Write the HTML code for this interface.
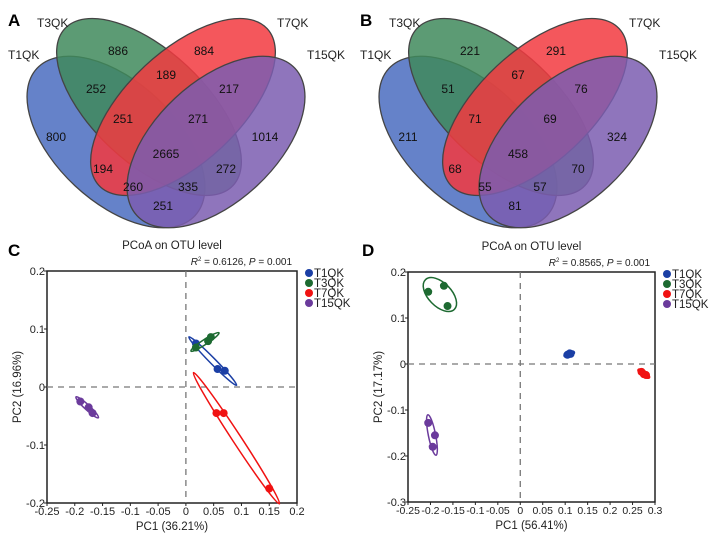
<!DOCTYPE html>
<html><head><meta charset="utf-8"><style>
html,body{margin:0;padding:0;background:#fff}
svg{display:block;font-family:"Liberation Sans",Arial,sans-serif}
</style></head><body>
<svg id="fig" width="713" height="540" viewBox="0 0 713 540" xmlns="http://www.w3.org/2000/svg">
<g id="vennA"></g>
<g id="vennB" transform="translate(352,0)"></g>
<text x="8" y="26" font-size="17" font-weight="bold">A</text>
<text x="360" y="26" font-size="17" font-weight="bold">B</text>
<text x="8" y="256" font-size="17" font-weight="bold">C</text>
<text x="362" y="256" font-size="17" font-weight="bold">D</text>
<g id="pcoaC"></g>
<g id="pcoaD"></g>
</svg>
<script>
const NS="http://www.w3.org/2000/svg";
const groups=["T1QK","T3QK","T7QK","T15QK"];
const vennA=["886","884","189","252","217","251","271","800","1014","2665","194","272","260","335","251"];
const vennB=["221","291","67","51","76","71","69","211","324","458","68","70","55","57","81"];
const cT1x=[0.018,0.057,0.070], cT1y=[0.075,0.031,0.028];
const cT3x=[0.018,0.040,0.045], cT3y=[0.068,0.079,0.086];
const cT7x=[0.055,0.068,0.150], cT7y=[-0.045,-0.045,-0.175];
const cT15x=[-0.190,-0.175,-0.168], cT15y=[-0.025,-0.035,-0.045];
const dT1x=[0.105,0.110,0.112], dT1y=[0.020,0.023,0.022];
const dT3x=[-0.205,-0.170,-0.162], dT3y=[0.157,0.170,0.126];
const dT7x=[0.270,0.275,0.280], dT7y=[-0.017,-0.022,-0.024];
const dT15x=[-0.205,-0.190,-0.195], dT15y=[-0.128,-0.155,-0.180];
const cXticks=[-0.25,-0.2,-0.15,-0.1,-0.05,0,0.05,0.1,0.15,0.2];
const cYticks=[0.2,0.1,0,-0.1,-0.2];
const dXticks=[-0.25,-0.2,-0.15,-0.1,-0.05,0,0.05,0.1,0.15,0.2,0.25,0.3];
const dYticks=[0.2,0.1,0,-0.1,-0.2,-0.3];

function mk(tag,attrs,parent){const e=document.createElementNS(NS,tag);for(const k in attrs)e.setAttribute(k,attrs[k]);parent.appendChild(e);return e;}

const vpos=[[118,55],[204,55],[166,79],[96,93],[229,93],[123,123],[198,123],[56,141],[265,141],[166,158],[103,173],[226,173],[133,191],[188,191],[163,210]];
function drawVenn(g,vals){
  const ells=[[116,142,108,60,43,"#4a6cc0"],[149,107,115,56,43,"#3f8a5c"],[183,107,115,56,-43,"#f23a40"],[216,142,108,60,-43,"#7b5db0"]];
  const names=["ellipse-t1qk","ellipse-t3qk","ellipse-t7qk","ellipse-t15qk"];
  ells.forEach((e,i)=>{
    const el=mk("ellipse",{cx:e[0],cy:e[1],rx:e[2],ry:e[3],transform:`rotate(${e[4]} ${e[0]} ${e[1]})`,fill:e[5],"fill-opacity":0.85,stroke:"#444","stroke-width":1.3},g);
    
    
  });
  const lp=[[8,59],[37,27],[277,27],[307,59]];
  groups.forEach((n,i)=>{
    const t=mk("text",{x:lp[i][0],y:lp[i][1],"font-size":12,fill:"#222"},g);t.textContent=n;
    
    
  });
  vals.forEach((v,i)=>{
    const t=mk("text",{x:vpos[i][0],y:vpos[i][1],"font-size":12,"text-anchor":"middle",fill:"#111"},g);t.textContent=v;
    
    
  });
}
drawVenn(document.getElementById("vennA"),vennA);
drawVenn(document.getElementById("vennB"),vennB);

const colors=["#1b3fa5","#1d6a31","#f01212","#6b3b9c"];
function ellipsePath(px,py){
  const n=px.length;const mx=px.reduce((a,b)=>a+b)/n,my=py.reduce((a,b)=>a+b)/n;
  let sxx=0,syy=0,sxy=0;for(let i=0;i<n;i++){sxx+=(px[i]-mx)**2;syy+=(py[i]-my)**2;sxy+=(px[i]-mx)*(py[i]-my);}
  sxx/=(n-1);syy/=(n-1);sxy/=(n-1);
  const tr=sxx+syy,det=sxx*syy-sxy*sxy,d=Math.sqrt(Math.max(tr*tr/4-det,0));
  const l1=tr/2+d,l2=Math.max(tr/2-d,0);const ang=Math.atan2(l1-sxx,sxy||1e-9);
  const k=1.45;const a=Math.max(k*Math.sqrt(l1)+3,4),b=Math.max(k*Math.sqrt(l2),2.5);
  return {mx,my,a,b,ang:Math.abs(sxy)<1e-9?0:ang*180/Math.PI};
}
function drawPcoa(g,cfg){
  const X=v=>cfg.x0+(v-cfg.xmin)/(cfg.xmax-cfg.xmin)*(cfg.x1-cfg.x0);
  const Y=v=>cfg.y1-(v-cfg.ymin)/(cfg.ymax-cfg.ymin)*(cfg.y1-cfg.y0);
  let t=mk("text",{x:(cfg.x0+cfg.x1)/2,y:cfg.y0-22,"font-size":11.5,"text-anchor":"middle",fill:"#222"},g);t.textContent="PCoA on OTU level";
  
  t=mk("text",{x:cfg.x1-5,y:cfg.y0-6,"font-size":10,"text-anchor":"end",fill:"#222"},g);
  t.innerHTML=`<tspan font-style="italic">R</tspan><tspan font-size="6" dy="-4">2</tspan><tspan dy="4"> = ${cfg.r2}, </tspan><tspan font-style="italic">P</tspan> = 0.001`;
  
  let r=mk("rect",{x:cfg.x0,y:cfg.y0,width:cfg.x1-cfg.x0,height:cfg.y1-cfg.y0,fill:"none",stroke:"#222","stroke-width":1.5},g);
  
  let l=mk("line",{x1:X(0),x2:X(0),y1:cfg.y0,y2:cfg.y1,stroke:"#777","stroke-width":1.3,"stroke-dasharray":"6,5"},g);
  
  l=mk("line",{x1:cfg.x0,x2:cfg.x1,y1:Y(0),y2:Y(0),stroke:"#777","stroke-width":1.3,"stroke-dasharray":"6,5"},g);
  
  cfg.xt.forEach(v=>{
    const s=mk("line",{x1:X(v),x2:X(v),y1:cfg.y1,y2:cfg.y1+3,stroke:"#222"},g);
    
    const tt=mk("text",{x:X(v),y:cfg.y1+12,"font-size":cfg.fs,"text-anchor":"middle",fill:"#222"},g);tt.textContent=String(v);
    
  });
  cfg.yt.forEach(v=>{
    const s=mk("line",{x1:cfg.x0-3,x2:cfg.x0,y1:Y(v),y2:Y(v),stroke:"#222"},g);
    
    const tt=mk("text",{x:cfg.x0-2,y:Y(v)+4,"font-size":11,"text-anchor":"end",fill:"#222"},g);tt.textContent=String(v);
    
  });
  t=mk("text",{x:(cfg.x0+cfg.x1)/2,y:cfg.y1+27,"font-size":11.5,"text-anchor":"middle",fill:"#222"},g);t.textContent=cfg.xl;
  
  const yc=(cfg.y0+cfg.y1)/2;
  t=mk("text",{x:cfg.x0-26,y:yc,"font-size":11.5,"text-anchor":"middle",fill:"#222",transform:`rotate(-90 ${cfg.x0-26} ${yc})`},g);t.textContent=cfg.yl;
  
  cfg.series.forEach((s,i)=>{
    const px=s[0].map(X),py=s[1].map(Y);const e=ellipsePath(px,py);
    const el=mk("ellipse",{cx:e.mx,cy:e.my,rx:e.a,ry:e.b,transform:`rotate(${e.ang} ${e.mx} ${e.my})`,fill:"none",stroke:colors[i],"stroke-width":1.5},g);
    
    px.forEach((x,j)=>{
      const c=mk("circle",{cx:x,cy:py[j],r:4,fill:colors[i]},g);
      
    });
  });
  groups.forEach((n,i)=>{
    const y=cfg.y0+2+i*10;
    const c=mk("circle",{cx:cfg.lx,cy:y,r:4,fill:colors[i]},g);
    
    const tt=mk("text",{x:cfg.lx+5,y:y+4,"font-size":11.5,fill:"#222"},g);tt.textContent=n;
    
  });
}
drawPcoa(document.getElementById("pcoaC"),{x0:47,x1:297,y0:271,y1:503,xmin:-0.25,xmax:0.2,ymin:-0.2,ymax:0.2,xt:cXticks,yt:cYticks,fs:11,r2:"0.6126",xl:"PC1 (36.21%)",yl:"PC2 (16.96%)",lx:309,
  series:[[cT1x,cT1y],[cT3x,cT3y],[cT7x,cT7y],[cT15x,cT15y]]});
drawPcoa(document.getElementById("pcoaD"),{x0:408,x1:655,y0:272,y1:502,xmin:-0.25,xmax:0.3,ymin:-0.3,ymax:0.2,xt:dXticks,yt:dYticks,fs:10.5,r2:"0.8565",xl:"PC1 (56.41%)",yl:"PC2 (17.17%)",lx:667,
  series:[[dT1x,dT1y],[dT3x,dT3y],[dT7x,dT7y],[dT15x,dT15y]]});
</script>
</body></html>
